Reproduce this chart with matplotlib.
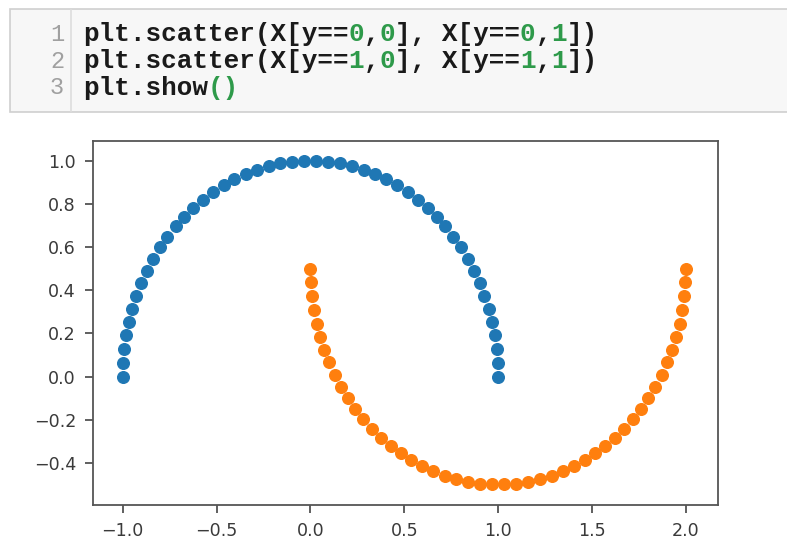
import matplotlib
matplotlib.use("Agg")
import matplotlib.pyplot as plt
from matplotlib.patches import Rectangle
from matplotlib.lines import Line2D

# ---- data (two half-moons, 50 points each) ----
moon0_x = [1.000, 0.998, 0.992, 0.982, 0.967, 0.949, 0.927, 0.901, 0.871, 0.838,
           0.801, 0.762, 0.718, 0.672, 0.624, 0.572, 0.518, 0.463, 0.405, 0.345,
           0.285, 0.223, 0.160, 0.096, 0.032, -0.032, -0.096, -0.160, -0.223, -0.285,
           -0.345, -0.405, -0.463, -0.518, -0.572, -0.624, -0.672, -0.718, -0.762, -0.801,
           -0.838, -0.871, -0.901, -0.927, -0.949, -0.967, -0.982, -0.992, -0.998, -1.000]
moon0_y = [0.000, 0.064, 0.128, 0.191, 0.254, 0.315, 0.375, 0.434, 0.491, 0.546,
           0.598, 0.648, 0.696, 0.740, 0.782, 0.820, 0.855, 0.887, 0.914, 0.938,
           0.959, 0.975, 0.987, 0.995, 0.999, 0.999, 0.995, 0.987, 0.975, 0.959,
           0.938, 0.914, 0.887, 0.855, 0.820, 0.782, 0.740, 0.696, 0.648, 0.598,
           0.546, 0.491, 0.434, 0.375, 0.315, 0.254, 0.191, 0.128, 0.064, 0.000]
moon1_x = [0.000, 0.002, 0.008, 0.018, 0.033, 0.051, 0.073, 0.099, 0.129, 0.162,
           0.199, 0.238, 0.282, 0.328, 0.376, 0.428, 0.482, 0.537, 0.595, 0.655,
           0.715, 0.777, 0.840, 0.904, 0.968, 1.032, 1.096, 1.160, 1.223, 1.285,
           1.345, 1.405, 1.463, 1.518, 1.572, 1.624, 1.672, 1.718, 1.762, 1.801,
           1.838, 1.871, 1.901, 1.927, 1.949, 1.967, 1.982, 1.992, 1.998, 2.000]
moon1_y = [0.500, 0.436, 0.372, 0.309, 0.246, 0.185, 0.125, 0.066, 0.009, -0.046,
           -0.098, -0.148, -0.196, -0.240, -0.282, -0.320, -0.355, -0.387, -0.414, -0.438,
           -0.459, -0.475, -0.487, -0.495, -0.499, -0.499, -0.495, -0.487, -0.475, -0.459,
           -0.438, -0.414, -0.387, -0.355, -0.320, -0.282, -0.240, -0.196, -0.148, -0.098,
           -0.046, 0.009, 0.066, 0.125, 0.185, 0.246, 0.309, 0.372, 0.436, 0.500]

x_ticks = [-1.0, -0.5, 0.0, 0.5, 1.0, 1.5, 2.0]
y_ticks = [-0.4, -0.2, 0.0, 0.2, 0.4, 0.6, 0.8, 1.0]

# code cell content: list of (text, colour) segments per line
code_lines = [
    [("plt.scatter(X[y==", "k"), ("0", "g"), (",", "k"), ("0", "g"), ("], X[y==", "k"),
     ("0", "g"), (",", "k"), ("1", "g"), ("])", "k")],
    [("plt.scatter(X[y==", "k"), ("1", "g"), (",", "k"), ("0", "g"), ("], X[y==", "k"),
     ("1", "g"), (",", "k"), ("1", "g"), ("])", "k")],
    [("plt.show", "k"), ("()", "g")],
]

W, H = 787, 543
fig = plt.figure(figsize=(W / 100, H / 100), dpi=100)
fig.patch.set_facecolor("white")

def fx(px):
    return px / W

def fy(py):
    return 1 - py / H

# code cell box
fig.patches.append(Rectangle((fx(10), fy(112)), fx(790) - fx(10), fy(9) - fy(112),
                             transform=fig.transFigure, facecolor="#f7f7f7",
                             edgecolor="#cfcfcf", linewidth=1.2))
fig.lines.append(Line2D([fx(71), fx(71)], [fy(111), fy(10)], transform=fig.transFigure,
                        color="#dddddd", linewidth=1.2))

char_w = 15.6
colmap = {"k": "#1a1a1a", "g": "#2e9a4a"}
line_y = [34, 61, 88]
for i, segs in enumerate(code_lines):
    fig.text(fx(64), fy(line_y[i]), str(i + 1), ha="right", va="center",
             family="Liberation Mono", fontsize=17, color="#a0a0a0")
    n = 0
    for txt, c in segs:
        fig.text(fx(83 + n * char_w), fy(line_y[i]), txt, ha="left", va="center",
                 family="Liberation Mono", fontweight="bold", fontsize=18.7,
                 color=colmap[c])
        n += len(txt)

# plot axes
ax = fig.add_axes([fx(92.7), fy(505), fx(717.7) - fx(92.7), fy(141) - fy(505)])
ax.scatter(moon0_x, moon0_y, s=70, color="#1f77b4", zorder=3)
ax.scatter(moon1_x, moon1_y, s=70, color="#ff7f0e", zorder=3)
ax.set_xlim(-1.16, 2.17)
ax.set_ylim(-0.594, 1.091)
ax.set_xticks(x_ticks)
ax.set_yticks(y_ticks)
ax.set_xticklabels([f"{v:.1f}".replace("-", "\u2212") for v in x_ticks])
ax.set_yticklabels([f"{v:.1f}".replace("-", "\u2212") for v in y_ticks])
ax.tick_params(labelsize=12.6, length=6, width=1.2, pad=6, colors="#444444",
               labelcolor="#3a3a3a")
for sp in ax.spines.values():
    sp.set_linewidth(1.3)
    sp.set_color("#555555")

fig.savefig("out.png", dpi=100)
